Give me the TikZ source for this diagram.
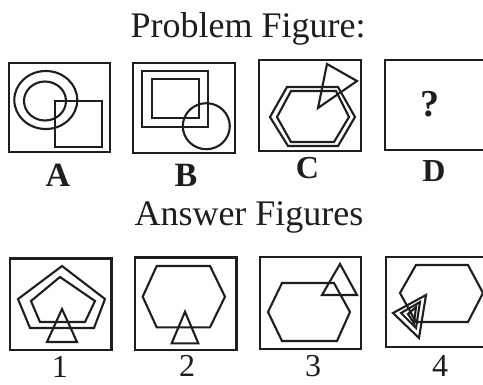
\documentclass[tikz,border=0pt]{standalone}
\usepackage{fontspec}
\setmainfont{Liberation Serif}
\definecolor{ink}{HTML}{1E1E1E}
\begin{document}
\begin{tikzpicture}[x=1pt,y=-1pt,
  frame/.style={draw=ink, line width=2.8pt},
  shp/.style={draw=ink, line width=2.1pt, line join=miter},
  ttl/.style={font=\fontsize{36}{40}\selectfont, text=ink, anchor=base, inner sep=0pt},
  lblbig/.style={font=\bfseries\fontsize{34}{38}\selectfont, text=ink, anchor=base, inner sep=0pt},
  lblsmall/.style={font=\bfseries\fontsize{32}{34}\selectfont, text=ink, anchor=base, inner sep=0pt},
  num/.style={font=\fontsize{32}{34}\selectfont, text=ink, anchor=base, inner sep=0pt}]
\useasboundingbox (0,0) rectangle (483,384);
\clip (0,0) rectangle (483,384);
\fill[white] (0,0) rectangle (483,384);

% titles
\node[ttl] (t1) at (248,37) {Problem Figure:};
\node[ttl] (t2) at (249,225) {Answer Figures};

% ---------- Problem figures ----------
% A
\draw[frame] (9,63) rectangle (110,152);
\draw[shp] (45.8,100) ellipse [x radius=31.5pt, y radius=29pt];
\draw[shp] (45,101) ellipse [x radius=21pt, y radius=19.5pt];
\draw[shp] (55,100.7) rectangle (101.7,146.7);
\node[lblbig] (la) at (58,186) {A};

% B
\draw[frame] (133,63) rectangle (235,153);
\draw[shp] (142,71) rectangle (208,127);
\draw[shp] (152,79) rectangle (199,118);
\draw[shp] (206.3,126.2) ellipse [x radius=23.5pt, y radius=23pt];
\node[lblbig] (lb) at (186,186) {B};

% C
\draw[frame] (259,60) rectangle (361,151);
\draw[shp] (270,117) -- (287,87) -- (338,87) -- (355,117) -- (338,146) -- (288,146) -- cycle;
\draw[shp] (277,117) -- (291,91) -- (336,91) -- (349,117) -- (334,142) -- (291,142) -- cycle;
\draw[shp] (318,108) -- (327,64) -- (357,81) -- cycle;
\node[lblsmall] (lc) at (307.5,178) {C};

% D
\draw[frame] (385,60) rectangle (495,150);
\node[font=\bfseries\fontsize{38}{40}\selectfont, text=ink, inner sep=0pt] (q) at (430,104) {?};
\node[lblsmall] (ld) at (434,181) {D};

% ---------- Answer figures ----------
% 1
\draw[frame] (10,258.3) rectangle (111.7,350);
\draw[shp] (62,266) -- (105,299) -- (94,328) -- (30,328) -- (18,299) -- cycle;
\draw[shp] (60,277) -- (95,301) -- (85,322) -- (40,322) -- (31,301) -- cycle;
\draw[shp] (62,309) -- (77,342) -- (47,342) -- cycle;
\node[num] (n1) at (60,377) {1};

% 2
\draw[frame] (135,257.3) rectangle (236.7,350);
\draw[shp] (142.7,296.7) -- (156.7,266) -- (210,266) -- (225,296.7) -- (210,327.3) -- (156.7,327.3) -- cycle;
\draw[shp] (185,311.7) -- (198.3,343.3) -- (171.7,343.3) -- cycle;
\node[num] (n2) at (187,376) {2};

% 3
\draw[frame] (260,257) rectangle (361,349);
\draw[shp] (268,312) -- (282,283) -- (334,283) -- (350,312) -- (337,341) -- (282,341) -- cycle;
\draw[shp] (340,264) -- (357,295) -- (322,295) -- cycle;
\node[num] (n3) at (313,376) {3};

% 4
\draw[frame] (386,257) rectangle (495,347);
\draw[shp] (400,293) -- (416,265) -- (468,265) -- (483,293) -- (468,322) -- (416,322) -- cycle;
\draw[shp] (393,313) -- (426,295) -- (419,338) -- cycle;
\draw[shp] (401,313) -- (420,302) -- (416,328) -- cycle;
\draw[shp] (408,314) -- (416,307) -- (414,323) -- cycle;
\node[num] (n4) at (440,376) {4};
\end{tikzpicture}
\end{document}
